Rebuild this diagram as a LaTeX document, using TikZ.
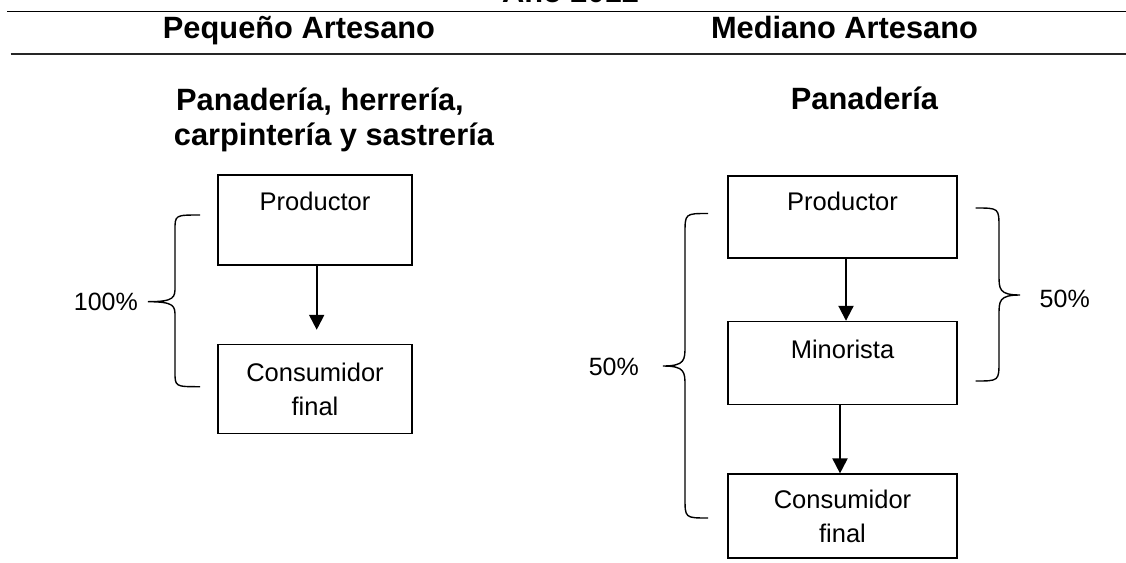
\documentclass[tikz,border=0pt]{standalone}
\usepackage{fontspec}
\setmainfont{Liberation Sans}
\usetikzlibrary{positioning,arrows.meta}

% llave: x extremos, x recta, x punta, y arriba, y punta, y abajo, rizo
\newcommand{\llave}[7]{%
  \draw[linea llave] (#1,#4) .. controls (#2,#4) and (#2,#4) .. (#2,#4+#7)
    -- (#2,#5-#7) .. controls (#2,#5-0.3*#7) and (#2,#5) .. (#3,#5)
    .. controls (#2,#5) and (#2,#5+0.3*#7) .. (#2,#5+#7)
    -- (#2,#6-#7) .. controls (#2,#6) and (#2,#6) .. (#1,#6);}

\begin{document}
\begin{tikzpicture}[
  x=1pt, y=-1pt,
  caja/.style={draw, line width=1.6pt, minimum width=#1, inner xsep=0pt,
    inner ysep=0pt, align=center, font=\fontsize{25.5}{34}\selectfont},
  titulo/.style={anchor=base, inner sep=0pt, font=\fontsize{30.8}{36}\selectfont\bfseries},
  pct/.style={inner sep=0pt, font=\fontsize{25}{30}\selectfont},
  flecha/.style={line width=2pt, -{Triangle[length=15pt, width=15pt]}},
  linea llave/.style={line width=1.4pt}
]
\useasboundingbox (0,0) rectangle (1126,562);
\clip (0,0) rectangle (1126,562);

% encabezado
\node[titulo] (anio) at (570.5,2) {Año 2012};
\draw[line width=1.4pt] (7,11.7) -- (1126,11.7);
\node[titulo] (pequeno) at (299,38.3) {Pequeño Artesano};
\node[titulo] (mediano) at (844.5,38.3) {Mediano Artesano};
\draw[line width=2.4pt, black!85] (10.7,54) -- (1126,54);

% pequeno artesano
\node[titulo] (rubros1) at (320,110) {Panadería, herrería,};
\node[titulo] (rubros2) at (334,145) {carpintería y sastrería};
\node[caja=194pt, text height=35pt, text depth=55pt] (pp) at (315,220) {Productor};
\node[caja=194pt, minimum height=89pt, below=78pt of pp] (pc) {Consumidor\\final};
\draw[flecha, shorten >=14pt] ([xshift=1.7pt]pp.south) -- ([xshift=1.7pt]pc.north);
\llave{200}{175}{148}{215}{301.7}{386.7}{15}
\node[pct, anchor=east] (p100) at (138,301.7) {100\%};

% mediano artesano
\node[titulo] (rubro) at (864.5,109) {Panadería};
\node[caja=229pt, text height=34pt, text depth=48pt] (mp) at (842.5,217) {Productor};
\node[caja=229pt, text height=36.5pt, text depth=46.5pt, below=62pt of mp] (mm) {Minorista};
\node[caja=229pt, minimum height=84pt, below=68pt of mm] (mc) {Consumidor\\final};
\draw[flecha] ([xshift=3.5pt]mp.south) -- ([xshift=3.5pt]mm.north);
\draw[flecha] ([xshift=-2.5pt]mm.south) -- ([xshift=-2.5pt]mc.north);
\llave{708}{685}{663}{213.5}{366}{518}{20}
\node[pct, anchor=east] (p50a) at (639,367) {50\%};
\llave{975.5}{999}{1020}{208}{295}{381}{20}
\node[pct, anchor=west] (p50b) at (1039.5,299) {50\%};
\end{tikzpicture}
\end{document}
